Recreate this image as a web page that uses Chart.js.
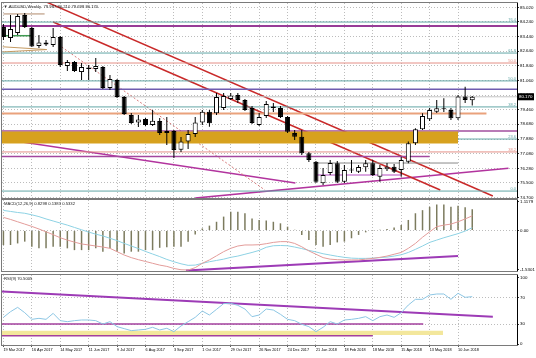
<!DOCTYPE html>
<html>
<head>
<meta charset="utf-8">
<script src="https://cdn.jsdelivr.net/npm/chart.js@4.4.1/dist/chart.umd.min.js"></script>
<style>
  html, body { margin: 0; padding: 0; background: #fff; }
  #wrap { position: relative; width: 536px; height: 358px; overflow: hidden; }
  canvas { position: absolute; left: 0; }
</style>
</head>
<body>
<div id="wrap">
  <canvas id="main" width="536" height="199" style="top:0"></canvas>
  <canvas id="macd" width="536" height="73" style="top:199px"></canvas>
  <canvas id="rsi" width="536" height="86" style="top:272px"></canvas>
</div>
<script>
// weekly bars, first bar = 19 Mar 2017
const dateLabels = ['19 Mar 2017', '16 Apr 2017', '14 May 2017', '11 Jun 2017', '9 Jul 2017', '6 Aug 2017',
  '3 Sep 2017', '1 Oct 2017', '29 Oct 2017', '26 Nov 2017', '24 Dec 2017', '21 Jan 2018', '18 Feb 2018',
  '18 Mar 2018', '15 Apr 2018', '13 May 2018', '10 Jun 2018'];

const opens = [83.95, 83.36, 83.63, 84.60, 83.90, 82.92, 83.11, 82.98, 83.41, 81.84,
  82.06, 81.51, 81.76, 81.68, 81.78, 80.65, 81.08, 80.16, 79.18, 78.77,
  78.97, 78.64, 78.86, 78.21, 78.32, 77.30, 77.74, 78.15, 78.77, 79.36,
  79.28, 79.56, 80.05, 80.27, 80.00, 79.56, 78.64, 79.13, 79.64, 79.56,
  79.08, 78.21, 78.01, 77.11, 76.65, 75.48, 76.04, 76.57, 75.57, 76.23,
  76.11, 76.35, 76.57, 75.84, 76.24, 76.38, 76.20, 76.65, 77.65, 78.41,
  78.95, 79.36, 79.54, 79.45, 79.00, 80.18, 79.987];
const highs = [84.11, 84.60, 84.66, 84.71, 83.95, 83.52, 83.25, 83.90, 83.46, 82.16,
  82.11, 82.00, 81.89, 82.27, 81.84, 81.35, 81.13, 80.21, 79.29, 79.18,
  79.02, 79.45, 79.02, 79.08, 78.37, 77.99, 78.37, 79.08, 79.45, 79.45,
  80.38, 80.38, 80.38, 80.38, 80.05, 79.67, 79.29, 79.94, 79.83, 79.67,
  79.13, 78.37, 78.37, 77.18, 76.69, 76.31, 76.74, 76.69, 76.47, 76.74,
  76.47, 76.74, 76.74, 76.47, 76.58, 76.53, 76.92, 77.74, 78.46, 79.28,
  79.56, 80.00, 80.09, 79.56, 80.27, 80.72, 80.21];
const lows = [83.25, 83.14, 83.52, 83.90, 82.87, 82.81, 82.92, 82.87, 81.78, 81.57,
  81.51, 81.08, 81.08, 81.51, 80.59, 80.54, 80.10, 79.18, 78.70, 78.53,
  78.59, 78.59, 78.10, 77.56, 76.85, 77.18, 77.34, 77.99, 78.64, 78.55,
  79.18, 79.45, 80.00, 79.83, 79.40, 78.70, 78.59, 79.02, 79.35, 79.02,
  78.21, 77.83, 77.02, 76.64, 75.50, 75.39, 75.93, 75.50, 75.50, 76.04,
  76.04, 76.11, 75.88, 75.57, 76.15, 76.04, 75.84, 76.57, 77.56, 78.37,
  78.86, 79.29, 79.35, 78.91, 78.91, 79.83, 79.698];
const closes = [83.41, 83.84, 84.55, 83.95, 82.90, 83.11, 83.00, 83.41, 81.89, 82.06,
  81.57, 81.78, 81.68, 81.84, 80.65, 81.13, 80.16, 79.24, 78.75, 78.94,
  78.64, 78.87, 78.21, 78.32, 77.29, 77.74, 78.15, 78.77, 79.36, 78.73,
  80.16, 80.21, 80.24, 80.00, 79.45, 78.75, 79.08, 79.78, 79.56, 79.08,
  78.28, 78.01, 77.11, 76.74, 75.57, 75.93, 76.58, 75.57, 76.20, 76.18,
  76.36, 76.57, 75.93, 76.31, 76.38, 76.11, 76.74, 77.65, 78.41, 79.13,
  79.45, 79.55, 79.50, 79.00, 80.18, 79.99, 80.17];
const priceTicks = [85.02, 84.24, 83.44, 82.64, 81.84, 81.06, 80.26, 79.46, 78.68, 77.88, 77.08, 76.28, 75.50, 74.70];

// drawn objects on the price pane (bar index, price)
const fibTeal = [84.22, 82.54, 81.03, 79.62, 77.88, 75.06];
const fibTealTags = ['76.4', '61.8', '50.0', '38.2', '23.6', '0.0'];
const fibRed = [82.00, 77.18];
const fibRedTags = ['50.0', '38.2'];
const purpleLevels = [84.01, 78.31];
const violetLevel = 80.58;
const orangeLevel = [79.26, 68];
const purpleShort = [76.93, 60];
const grayLevel = [76.58, 43.6, 64];
const magentaLevel = [75.93, 44, 56];
const zone = [78.29, 77.64, 64];
const brownLevel = [84.66, 0, 5.8];
const greenLevel = [83.48, 4];
const wedge = [[-0.1, 82.88, 6.1, 82.73], [-0.1, 82.60, 6.1, 82.73]];
const redChannel = [[0, 86.32, 68.9, 74.79], [7.0, 84.22, 61.5, 75.12]];
const redDotted = [8.2, 82.87, 36.8, 75.12];
const magentaTrends = [[-0.2, 77.88, 41.1, 75.50], [27.0, 74.68, 71.1, 76.30]];

// MACD pane
const macdHist = [-0.56, -0.56, -0.50, -0.43, -0.63, -0.69, -0.69, -0.63, -0.63, -0.69,
  -0.76, -0.76, -0.76, -0.69, -0.82, -0.69, -0.82, -0.89, -0.82, -0.82,
  -0.76, -0.76, -0.67, -0.65, -0.63, -0.63, -0.43, -0.15, 0.08, 0.19,
  0.34, 0.54, 0.73, 0.73, 0.67, 0.47, 0.41, 0.39, 0.34, 0.28,
  0.15, 0.03, -0.17, -0.37, -0.56, -0.63, -0.56, -0.46, -0.43, -0.30,
  -0.17, -0.07, 0.01, 0.03, 0.06, 0.12, 0.21, 0.41, 0.67, 0.79,
  0.92, 1.01, 1.01, 0.92, 0.96, 0.90, 0.83];
const macdPink = [0.51, 0.43, 0.34, 0.25, 0.16, 0.06, -0.05, -0.16, -0.28, -0.37,
  -0.45, -0.52, -0.56, -0.60, -0.64, -0.69, -0.82, -0.95, -1.05, -1.13,
  -1.20, -1.27, -1.34, -1.39, -1.47, -1.52, -1.53, -1.44, -1.27, -1.14,
  -0.98, -0.82, -0.69, -0.60, -0.56, -0.56, -0.55, -0.51, -0.46, -0.43,
  -0.43, -0.50, -0.63, -0.79, -0.92, -1.05, -1.11, -1.13, -1.14, -1.14,
  -1.14, -1.11, -1.08, -1.04, -0.99, -0.92, -0.85, -0.69, -0.50, -0.26,
  -0.05, 0.15, 0.21, 0.25, 0.34, 0.45, 0.57];
const macdBlue = [0.78, 0.74, 0.70, 0.67, 0.61, 0.54, 0.45, 0.37, 0.29, 0.21,
  0.12, 0.03, -0.06, -0.14, -0.21, -0.30, -0.39, -0.50, -0.60, -0.70,
  -0.81, -0.91, -1.01, -1.12, -1.21, -1.29, -1.35, -1.34, -1.27, -1.21,
  -1.16, -1.11, -1.04, -0.99, -0.92, -0.85, -0.77, -0.65, -0.59, -0.58,
  -0.59, -0.64, -0.70, -0.77, -0.83, -0.90, -0.95, -1.00, -1.04, -1.07,
  -1.08, -1.08, -1.07, -1.05, -1.03, -0.99, -0.94, -0.85, -0.73, -0.60,
  -0.46, -0.37, -0.28, -0.20, -0.12, -0.02, 0.11];
const macdTicks = [1.1179, 0, -1.5301];
const macdTickText = ['1.1179', '0.00', '-1.5301'];
const macdTrend = [25.7, -1.551, 64, -0.989];

// RSI pane
const rsiValues = [40.1, 48.6, 55.1, 47.1, 37.1, 38.6, 37.1, 46.1, 35.1, 33.6,
  35.1, 36.1, 36.1, 35.1, 30.1, 33.6, 26.1, 23.1, 20.1, 21.1,
  22.1, 25.1, 21.1, 23.6, 18.6, 27.1, 33.6, 40.1, 49.6, 43.6,
  52.1, 60.7, 61.2, 58.1, 52.6, 41.1, 43.6, 52.6, 51.1, 44.6,
  37.1, 35.1, 29.6, 26.1, 18.6, 25.1, 33.6, 30.1, 36.1, 37.1,
  38.6, 41.1, 35.1, 41.1, 43.6, 40.1, 47.1, 58.6, 67.2, 67.2,
  73.7, 75.2, 75.2, 67.2, 76.2, 70.2, 71.2];
const rsiTicks = [100, 70, 30, 0];
const rsiTrend = [-0.2, 78.9, 68.9, 41.1];
const rsiPurple = [[30, 59.1], [12.5, 52]];
const rsiBand = [20, 13.5, 61.9];

const FONT = '"Liberation Sans", Arial, sans-serif';
const GRID = '#bcbcbc';
const X_MIN = -0.2, X_MAX = 72.3;
const last = closes.length - 1;

Chart.defaults.font.family = FONT;
Chart.defaults.animation = false;
Chart.defaults.events = [];
Chart.defaults.plugins.legend.display = false;
Chart.defaults.plugins.tooltip.enabled = false;
Chart.defaults.elements.point.radius = 0;

function seg(x1, y1, x2, y2, color, width, dash, order) {
  return {
    type: 'line', data: [{x: x1, y: y1}, {x: x2, y: y2}],
    borderColor: color, borderWidth: width || 1, borderDash: dash || [],
    fill: false, pointRadius: 0, order: order || 6
  };
}

function xScale(withLabels) {
  return {
    type: 'linear', min: X_MIN, max: X_MAX, offset: false,
    afterBuildTicks: s => { s.ticks = dateLabels.map((_, k) => ({value: k * 4})); },
    afterFit: s => { s.height = withLabels ? 13 : 0; s.paddingLeft = 0; s.paddingRight = 0; },
    grid: {color: GRID, offset: false, drawTicks: withLabels, tickLength: 2, tickColor: '#555'},
    border: {display: false, dash: [1, 2]},
    ticks: withLabels
      ? {autoSkip: false, maxRotation: 0, align: 'start', padding: 1, color: '#000',
         font: {size: 3.8}, callback: (v, k) => dateLabels[k]}
      : {display: false}
  };
}

function yScale(min, max, ticks, fmt, gridColor) {
  return {
    position: 'right', min: min, max: max,
    afterBuildTicks: s => { s.ticks = ticks.map(v => ({value: v})); },
    afterFit: s => { s.width = 19; s.paddingTop = 0; s.paddingBottom = 0; },
    grid: {color: gridColor || GRID, drawTicks: true, tickLength: 2, tickColor: '#333'},
    border: {display: false, dash: [1, 2]},
    ticks: {padding: 1, color: '#000', font: {size: 4.4}, callback: fmt}
  };
}

function framePlugin(title) {
  return {
    id: 'frame',
    afterDraw(chart) {
      const {ctx, chartArea: a} = chart;
      ctx.save();
      ctx.strokeStyle = '#7a7a7a';
      ctx.lineWidth = 1;
      ctx.strokeRect(a.left - 0.5, a.top - 0.5, a.right - a.left + 1, a.bottom - a.top + 1);
      ctx.strokeStyle = '#000';
      ctx.beginPath();
      ctx.moveTo(a.right + 0.5, a.top);
      ctx.lineTo(a.right + 0.5, a.bottom);
      ctx.stroke();
      ctx.fillStyle = '#222';
      ctx.font = '4.2px ' + FONT;
      ctx.textBaseline = 'middle';
      ctx.textAlign = 'left';
      ctx.fillText(title, a.left + 2, a.top + 4);
      ctx.restore();
    }
  };
}

// ---------- price pane ----------
const bodies = opens.map((o, i) => ({x: i, y: [o, closes[i]]}));
const wicks = lows.map((l, i) => ({x: i, y: [l, highs[i]]}));

const TEAL = '#62a6a6', SALMON = '#e48f86', PURPLE = '#973c97', RED = '#c92a2a', MAGENTA = '#b2349e';
const mainSets = [];
fibTeal.forEach(p => mainSets.push(seg(X_MIN, p, X_MAX, p, TEAL, 1)));
fibRed.forEach(p => mainSets.push(seg(X_MIN, p, X_MAX, p, SALMON, 1)));
mainSets.push(seg(X_MIN, closes[last], X_MAX, closes[last], '#c4c4c4', 1));
mainSets.push(seg(X_MIN, purpleLevels[0], X_MAX, purpleLevels[0], PURPLE, 2));
mainSets.push(seg(X_MIN, purpleLevels[1], X_MAX, purpleLevels[1], '#a04f9e', 1.5));
mainSets.push(seg(X_MIN, violetLevel, X_MAX, violetLevel, '#6f5cb0', 1.5));
mainSets.push(seg(X_MIN, orangeLevel[0], orangeLevel[1], orangeLevel[0], '#eaa27c', 2));
mainSets.push(seg(X_MIN, purpleShort[0], purpleShort[1], purpleShort[0], '#a3489f', 1.5));
mainSets.push(seg(grayLevel[1], grayLevel[0], grayLevel[2], grayLevel[0], '#8a8a8a', 1));
mainSets.push(seg(magentaLevel[1], magentaLevel[0], magentaLevel[2], magentaLevel[0], '#b44fc2', 1));
mainSets.push(seg(brownLevel[1], brownLevel[0], brownLevel[2], brownLevel[0], '#b08a6c', 1));
mainSets.push(seg(X_MIN, greenLevel[0], greenLevel[1], greenLevel[0], '#3f9a52', 1.5));
wedge.forEach(w => mainSets.push(seg(w[0], w[1], w[2], w[3], '#c49a62', 1)));
redChannel.forEach(r => mainSets.push(seg(r[0], r[1], r[2], r[3], RED, 1.5)));
mainSets.push(seg(redDotted[0], redDotted[1], redDotted[2], redDotted[3], '#d77a7a', 1, [2, 2]));
magentaTrends.forEach(m => mainSets.push(seg(m[0], m[1], m[2], m[3], MAGENTA, 1.5)));
mainSets.push({
  type: 'line', data: [{x: X_MIN, y: zone[0]}, {x: zone[2], y: zone[0]}],
  borderWidth: 0, borderColor: 'rgba(0,0,0,0)', backgroundColor: '#d7a11e',
  fill: {value: zone[1]}, pointRadius: 0, order: 5
});
mainSets.push({type: 'bar', data: wicks, backgroundColor: '#000', borderWidth: 0,
  grouped: false, maxBarThickness: 1, order: 2});
mainSets.push({type: 'bar', data: bodies, grouped: false, maxBarThickness: 5, minBarLength: 1,
  backgroundColor: c => (c.raw && c.raw.y[1] >= c.raw.y[0]) ? '#fff' : '#000',
  borderColor: '#000', borderWidth: 1, borderSkipped: false, order: 1});

const mainLabels = {
  id: 'mainLabels',
  afterDraw(chart) {
    const {ctx, chartArea: a, scales: {y}} = chart;
    ctx.save();
    ctx.font = '4px ' + FONT;
    ctx.textAlign = 'right';
    ctx.textBaseline = 'bottom';
    fibTeal.forEach((p, k) => { ctx.fillStyle = TEAL; ctx.fillText(fibTealTags[k], a.right - 1, y.getPixelForValue(p) - 0.5); });
    fibRed.forEach((p, k) => { ctx.fillStyle = SALMON; ctx.fillText(fibRedTags[k], a.right - 1, y.getPixelForValue(p) - 0.5); });
    const py = y.getPixelForValue(closes[last]);
    ctx.fillStyle = '#000';
    ctx.fillRect(a.right, py - 3.5, 17, 7);
    ctx.fillStyle = '#fff';
    ctx.font = '4.4px ' + FONT;
    ctx.textAlign = 'left';
    ctx.textBaseline = 'middle';
    ctx.fillText(closes[last].toFixed(3), a.right + 2, py);
    ctx.fillStyle = '#333';
    ctx.font = '4.2px ' + FONT;
    ctx.fillText('\u25BC', a.left + 1.5, a.top + 4);
    ctx.restore();
  }
};

const ohlcTitle = '    AUDUSD,Weekly  ' + [opens[last], highs[last], lows[last], closes[last]].map(v => v.toFixed(3)).join(' ');

new Chart(document.getElementById('main'), {
  type: 'bar',
  data: {datasets: mainSets},
  options: {
    responsive: false, devicePixelRatio: 1,
    layout: {padding: {top: 3, bottom: 1, left: 2, right: 0}},
    scales: {
      x: xScale(false),
      y: yScale(74.684, 85.253, priceTicks, v => v.toFixed(3))
    }
  },
  plugins: [framePlugin(ohlcTitle), mainLabels]
});

// ---------- MACD pane ----------
new Chart(document.getElementById('macd'), {
  type: 'bar',
  data: {datasets: [
    {type: 'bar', data: macdHist.map((v, i) => ({x: i, y: v})), backgroundColor: '#7c7b5e',
     grouped: false, maxBarThickness: 1.5, order: 3},
    seg(macdTrend[0], macdTrend[1], macdTrend[2], macdTrend[3], '#9d3bb6', 2, null, 2),
    {type: 'line', data: macdPink.map((v, i) => ({x: i, y: v})), borderColor: '#e39c9a', borderWidth: 1, pointRadius: 0, order: 1},
    {type: 'line', data: macdBlue.map((v, i) => ({x: i, y: v})), borderColor: '#8dd2e4', borderWidth: 1, pointRadius: 0, order: 1}
  ]},
  options: {
    responsive: false, devicePixelRatio: 1,
    layout: {padding: {top: 1, bottom: 1, left: 2, right: 0}},
    scales: {
      x: xScale(false),
      y: yScale(-1.569, 1.184, macdTicks, (v, k) => macdTickText[k],
        c => (c.tick && c.tick.value === 0) ? GRID : 'rgba(0,0,0,0)')
    }
  },
  plugins: [framePlugin('MACD(12,26,9) 0.8298 0.1383 0.5332')]
});

// ---------- RSI pane ----------
new Chart(document.getElementById('rsi'), {
  type: 'bar',
  data: {datasets: [
    {type: 'line', data: [{x: X_MIN, y: rsiBand[0]}, {x: rsiBand[2], y: rsiBand[0]}], borderWidth: 0,
     borderColor: 'rgba(0,0,0,0)', backgroundColor: '#f3e79c', fill: {value: rsiBand[1]}, pointRadius: 0, order: 4},
    seg(X_MIN, rsiPurple[0][0], rsiPurple[0][1], rsiPurple[0][0], '#a3409e', 1.5, null, 3),
    seg(X_MIN, rsiPurple[1][0], rsiPurple[1][1], rsiPurple[1][0], '#a3409e', 1.5, null, 3),
    seg(rsiTrend[0], rsiTrend[1], rsiTrend[2], rsiTrend[3], '#9d3bb6', 2, null, 2),
    {type: 'line', data: rsiValues.map((v, i) => ({x: i, y: v})), borderColor: '#8cc6e4', borderWidth: 1, pointRadius: 0, order: 1}
  ]},
  options: {
    responsive: false, devicePixelRatio: 1,
    layout: {padding: {top: 3, bottom: 0, left: 2, right: 0}},
    scales: {
      x: xScale(true),
      y: yScale(-1.5, 103.76, rsiTicks, v => String(v),
        c => (c.tick && (c.tick.value === 70 || c.tick.value === 30)) ? GRID : 'rgba(0,0,0,0)')
    }
  },
  plugins: [framePlugin('RSI(9) 70.5005')]
});
</script>
</body>
</html>
